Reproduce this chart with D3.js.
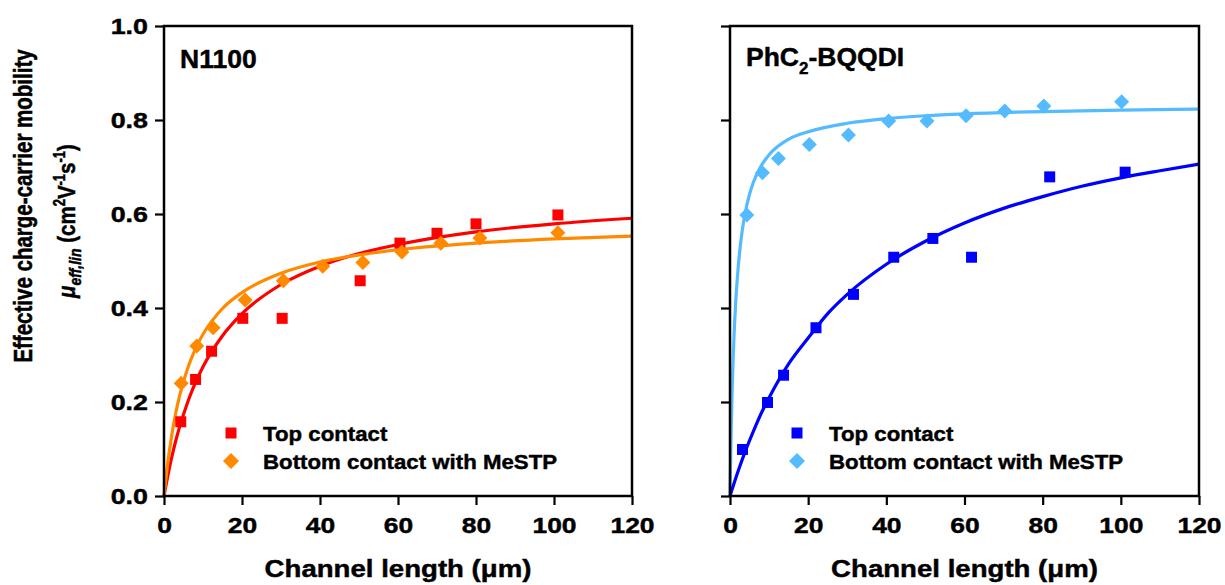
<!DOCTYPE html>
<html>
<head>
<meta charset="utf-8">
<script src="https://cdn.jsdelivr.net/npm/d3@7"></script>
<style>
  html, body { margin: 0; padding: 0; background: #fff; }
  svg { display: block; }
  text { font-family: "Liberation Sans", Arial, sans-serif; font-weight: bold; fill: #000; stroke: #000; stroke-width: 0.45px; }
</style>
</head>
<body>
<svg id="chart" width="1225" height="585"></svg>
<script>
// ---------- data ----------
const xTicks = [0, 20, 40, 60, 80, 100, 120];
const yTicks = [0, 0.2, 0.4, 0.6, 0.8, 1.0];
const seriesNames = ["Top contact", "Bottom contact with MeSTP"];
const panelTitles = ["N1100", "PhC2-BQQDI"];

// N1100 – top contact (red squares)
const n1100TopX = [4.3, 8.1, 12.2, 20.2, 30.3, 50.3, 60.5, 70, 80, 101];
const n1100TopY = [0.158, 0.248, 0.308, 0.378, 0.378, 0.458, 0.538, 0.559, 0.579, 0.598];
// N1100 – bottom contact with MeSTP (orange diamonds)
const n1100BotX = [4.4, 8.4, 12.6, 20.8, 30.6, 40.7, 51, 61, 71, 81, 101];
const n1100BotY = [0.240, 0.319, 0.358, 0.417, 0.458, 0.489, 0.497, 0.519, 0.538, 0.549, 0.560];
// N1100 fit curves
const n1100TopFitX = [0, 1, 2, 3, 4, 6, 8, 10, 15, 20, 30, 40, 50, 60, 80, 100, 120];
const n1100TopFitY = [0, 0.044, 0.083, 0.117, 0.147, 0.198, 0.240, 0.275, 0.341, 0.388, 0.450, 0.489, 0.516, 0.535, 0.562, 0.579, 0.591];
const n1100BotFitX = [0, 1, 2, 3, 4, 6, 8, 10, 15, 20, 30, 40, 50, 60, 80, 100, 120];
const n1100BotFitY = [0, 0.073, 0.130, 0.176, 0.213, 0.270, 0.312, 0.344, 0.399, 0.433, 0.474, 0.498, 0.513, 0.524, 0.538, 0.547, 0.553];

// PhC2-BQQDI – top contact (blue squares)
const bqqdiTopX = [3.2, 9.6, 13.7, 22, 31.6, 41.9, 51.9, 61.8, 81.8, 101.1];
const bqqdiTopY = [0.099, 0.199, 0.257, 0.358, 0.429, 0.508, 0.548, 0.508, 0.679, 0.689];
// PhC2-BQQDI – bottom contact with MeSTP (light blue diamonds)
const bqqdiBotX = [4.3, 8.3, 12.4, 20.3, 30.3, 40.6, 50.4, 60.4, 70.3, 80.3, 100.2];
const bqqdiBotY = [0.598, 0.688, 0.718, 0.748, 0.768, 0.798, 0.798, 0.809, 0.819, 0.830, 0.839];
// PhC2-BQQDI fit curves
const bqqdiTopFitX = [0, 2, 4, 6, 8, 10, 15, 20, 25, 30, 40, 50, 60, 70, 80, 90, 100, 110, 120];
const bqqdiTopFitY = [0, 0.051, 0.097, 0.138, 0.176, 0.209, 0.281, 0.336, 0.388, 0.429, 0.493, 0.542, 0.581, 0.612, 0.637, 0.659, 0.677, 0.692, 0.706];
const bqqdiBotFitX = [0, 0.25, 0.5, 1, 1.5, 2, 3, 4, 5, 6, 8, 10, 15, 20, 30, 40, 50, 60, 80, 100, 120];
const bqqdiBotFitY = [0, 0.119, 0.209, 0.334, 0.418, 0.477, 0.557, 0.607, 0.642, 0.668, 0.703, 0.726, 0.759, 0.775, 0.793, 0.803, 0.809, 0.813, 0.818, 0.821, 0.823];

// ---------- layout ----------
const svg = d3.select("#chart");
const plotTop = 26, plotBottom = 496;
const panels = [
  { left: 164, right: 632, title: panelTitles[0], titleY: 68,
    topC: "#ff0000", botC: "#ff8a00",
    topPts: [n1100TopX, n1100TopY], botPts: [n1100BotX, n1100BotY],
    topFit: [n1100TopFitX, n1100TopFitY], botFit: [n1100BotFitX, n1100BotFitY],
    yLabels: true },
  { left: 730, right: 1199, title: panelTitles[1], titleY: 66,
    topC: "#0000ff", botC: "#55bbff",
    topPts: [bqqdiTopX, bqqdiTopY], botPts: [bqqdiBotX, bqqdiBotY],
    topFit: [bqqdiTopFitX, bqqdiTopFitY], botFit: [bqqdiBotFitX, bqqdiBotFitY],
    yLabels: false }
];

const zip = (xs, ys) => xs.map((x, i) => [x, ys[i]]);
const diamondPath = r => `M0,${-r}L${r},0L0,${r}L${-r},0Z`;
const squarePath = s => `M${-s/2},${-s/2}h${s}v${s}h${-s}Z`;

panels.forEach((p, pi) => {
  const x = d3.scaleLinear().domain([0, 120]).range([p.left, p.right]);
  const y = d3.scaleLinear().domain([0, 1.0]).range([plotBottom, plotTop]);
  const g = svg.append("g");

  // fit lines
  const line = d3.line().x(d => x(d[0])).y(d => y(d[1])).curve(d3.curveMonotoneX);
  const fits = pi === 0
    ? [[p.topFit, p.topC], [p.botFit, p.botC]]
    : [[p.botFit, p.botC], [p.topFit, p.topC]];
  fits.forEach(([f, c]) => {
    g.append("path").datum(zip(f[0], f[1])).attr("d", line)
      .attr("fill", "none").attr("stroke", c).attr("stroke-width", 3.2);
  });

  // markers
  g.selectAll(".sq").data(zip(p.topPts[0], p.topPts[1])).join("path")
    .attr("transform", d => `translate(${x(d[0])},${y(d[1])})`)
    .attr("d", squarePath(11)).attr("fill", p.topC);
  g.selectAll(".dm").data(zip(p.botPts[0], p.botPts[1])).join("path")
    .attr("transform", d => `translate(${x(d[0])},${y(d[1])})`)
    .attr("d", diamondPath(7.5)).attr("fill", p.botC);

  // axes
  const xAxis = d3.axisBottom(x).tickValues(xTicks).tickSize(9).tickSizeOuter(0).tickFormat(d3.format("d"));
  const ax = g.append("g").attr("transform", `translate(0,${plotBottom})`).call(xAxis);
  const yAxis = d3.axisLeft(y).tickValues(yTicks).tickSize(9).tickSizeOuter(0).tickFormat(d3.format(".1f"));
  const ay = g.append("g").attr("transform", `translate(${p.left},0)`).call(yAxis);
  [ax, ay].forEach(a => {
    a.select(".domain").remove();
    a.selectAll(".tick line").attr("stroke", "#000").attr("stroke-width", 2.2);
    a.selectAll("text").style("font-family", "'Liberation Sans', Arial, sans-serif")
      .style("font-weight", "bold").attr("font-size", 22).attr("fill", "#000")
      .attr("stroke", "#000").attr("stroke-width", 0.6);
  });
  ax.selectAll("text").attr("y", 0).attr("dy", 0).attr("transform", "translate(0,37) scale(1.2,1)");
  if (p.yLabels) {
    ay.selectAll("text").attr("x", 0).attr("dy", "0.35em").attr("transform", "translate(-16,0) scale(1.22,1)");
  } else {
    ay.selectAll("text").remove();
  }

  // frame
  g.append("rect").attr("x", p.left).attr("y", plotTop)
    .attr("width", p.right - p.left).attr("height", plotBottom - plotTop)
    .attr("fill", "none").attr("stroke", "#000").attr("stroke-width", 2.5);

  // panel title
  const t = g.append("text").attr("x", p.left + 16).attr("y", p.titleY).attr("font-size", 26.5);
  if (pi === 0) {
    t.text(p.title);
  } else {
    t.append("tspan").text("PhC");
    t.append("tspan").attr("dy", 8).attr("font-size", 17).text("2");
    t.append("tspan").attr("dy", -8).text("-BQQDI");
  }

  // legend
  const lg = g.append("g").attr("transform", `translate(${p.left + 67},433)`);
  lg.append("path").attr("d", squarePath(11)).attr("fill", p.topC);
  lg.append("path").attr("transform", "translate(0,28)").attr("d", diamondPath(8)).attr("fill", p.botC);
  lg.append("text").attr("transform", "translate(32,8) scale(1.06,1)").attr("font-size", 21).text(seriesNames[0]);
  lg.append("text").attr("transform", "translate(32,36) scale(1.06,1)").attr("font-size", 21).text(seriesNames[1]);

  // x title
  g.append("text").attr("text-anchor", "middle")
    .attr("transform", `translate(${(p.left + p.right) / 2},577) scale(1.15,1)`)
    .attr("font-size", 24).text("Channel length (μm)");
});

// y title (two lines)
svg.append("text").attr("text-anchor", "middle")
  .attr("transform", "translate(32,206) rotate(-90) scale(1,1.22)")
  .attr("font-size", 20.5).text("Effective charge-carrier mobility");
const yt2 = svg.append("text").attr("text-anchor", "middle")
  .attr("transform", "translate(75,221) rotate(-90) scale(1,1.2)")
  .attr("font-size", 20.5);
yt2.append("tspan").attr("font-style", "italic").text("μ");
yt2.append("tspan").attr("font-style", "italic").attr("font-size", 14).attr("dy", 5).text("eff,lin");
yt2.append("tspan").attr("dy", -5).text(" (cm");
yt2.append("tspan").attr("font-size", 13).attr("dy", -8).text("2");
yt2.append("tspan").attr("dy", 8).text("V");
yt2.append("tspan").attr("font-size", 13).attr("dy", -8).text("-1");
yt2.append("tspan").attr("dy", 8).text("s");
yt2.append("tspan").attr("font-size", 13).attr("dy", -8).text("-1");
yt2.append("tspan").attr("dy", 8).text(")");
</script>
</body>
</html>
